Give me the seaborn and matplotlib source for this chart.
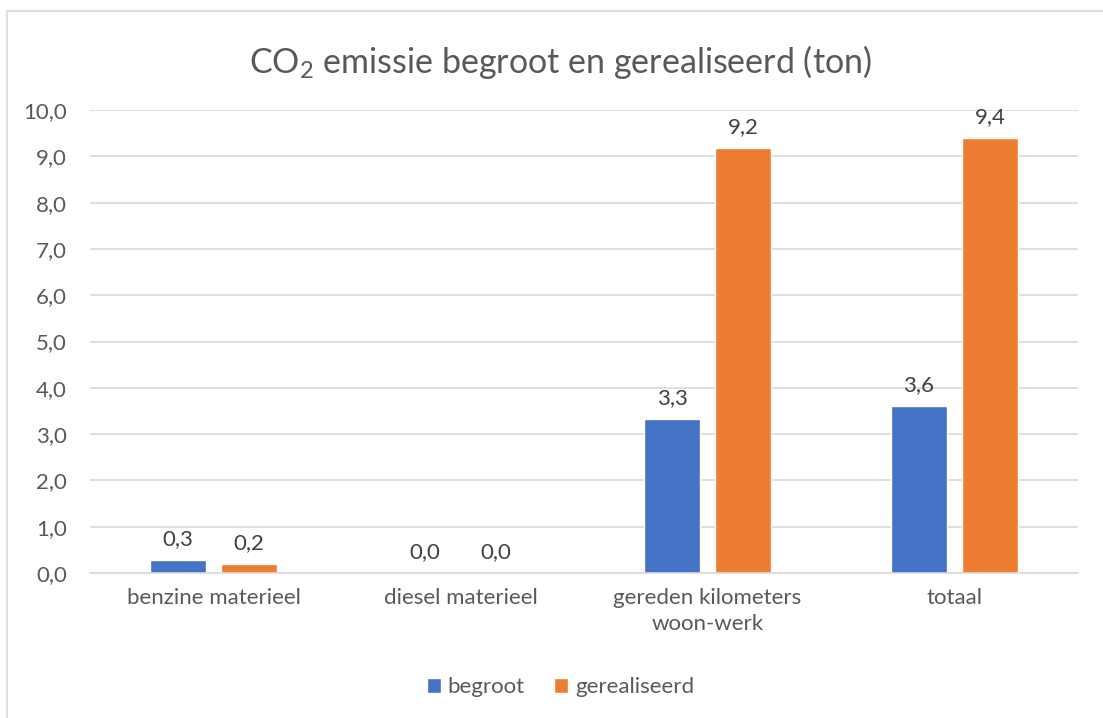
import pandas as pd
import seaborn as sns
import matplotlib.pyplot as plt
from matplotlib.lines import Line2D

# Data
categories = ["benzine materieel", "diesel materieel", "gereden kilometers\nwoon-werk", "totaal"]
begroot = [0.28, 0.0, 3.33, 3.61]
gerealiseerd = [0.20, 0.0, 9.18, 9.40]
series = ["begroot", "gerealiseerd"]
yticks = [0, 1, 2, 3, 4, 5, 6, 7, 8, 9, 10]

df = pd.DataFrame({
    "categorie": categories * 2,
    "waarde": begroot + gerealiseerd,
    "serie": [series[0]] * 4 + [series[1]] * 4,
})

sns.set_style("white")
plt.rcParams['font.family'] = ['Lato', 'DejaVu Sans']
plt.rcParams['mathtext.fontset'] = 'custom'
plt.rcParams['mathtext.rm'] = 'Lato'
text_col = "#595959"
fs = 16

fig = plt.figure(figsize=(11.03, 7.18), dpi=100)
ax = fig.add_axes([90 / 1103, 1 - 573 / 718, 988 / 1103, 463 / 718])

sns.barplot(
    data=df, x="categorie", y="waarde", hue="serie",
    palette=["#4472C4", "#ED7D31"], width=0.575, gap=0.21,
    saturation=1, ax=ax, legend=True
)

# Value labels
for cont in ax.containers:
    ax.bar_label(cont, labels=[f"{v:.1f}".replace(".", ",") for v in cont.datavalues],
                 padding=8, fontsize=fs, color="#404040")

ax.set_ylim(0, 10)
ax.set_xlim(-0.5, 3.5)
ax.set_yticks(yticks)
ax.set_yticklabels([f"{t:.1f}".replace(".", ",") for t in yticks], fontsize=fs, color=text_col)
ax.tick_params(axis="x", labelsize=fs, labelcolor=text_col, length=0, pad=11)
ax.tick_params(axis="y", length=0, pad=16.5)
for lbl in ax.get_xticklabels():
    lbl.set_linespacing(1.35)
ax.yaxis.grid(True, color="#d9d9d9", linewidth=1.2)
ax.set_axisbelow(True)
for s in ["top", "right", "left"]:
    ax.spines[s].set_visible(False)
ax.spines["bottom"].set_color("#d9d9d9")
ax.spines["bottom"].set_linewidth(1.2)
ax.set_xlabel("")
ax.set_ylabel("")

fig.text(0.508, 1 - 62 / 718, r"CO$_2$ emissie begroot en gerealiseerd (ton)",
         ha="center", va="center", fontsize=24.5, color=text_col)

leg = ax.legend(loc="center", bbox_to_anchor=(0.508, 1 - 687 / 718), bbox_transform=fig.transFigure,
                ncol=2, frameon=False, fontsize=fs, handlelength=0.65, handleheight=0.65,
                handletextpad=0.3, columnspacing=1.3)
for t in leg.get_texts():
    t.set_color(text_col)

# Chart frame (left and top edges visible)
fig.add_artist(Line2D([7 / 1103, 7 / 1103], [0, 1 - 11 / 718], transform=fig.transFigure,
                      color="#d9d9d9", linewidth=1.2))
fig.add_artist(Line2D([7 / 1103, 1], [1 - 11 / 718, 1 - 11 / 718], transform=fig.transFigure,
                      color="#d9d9d9", linewidth=1.2))

fig.savefig("out.png", dpi=100)
